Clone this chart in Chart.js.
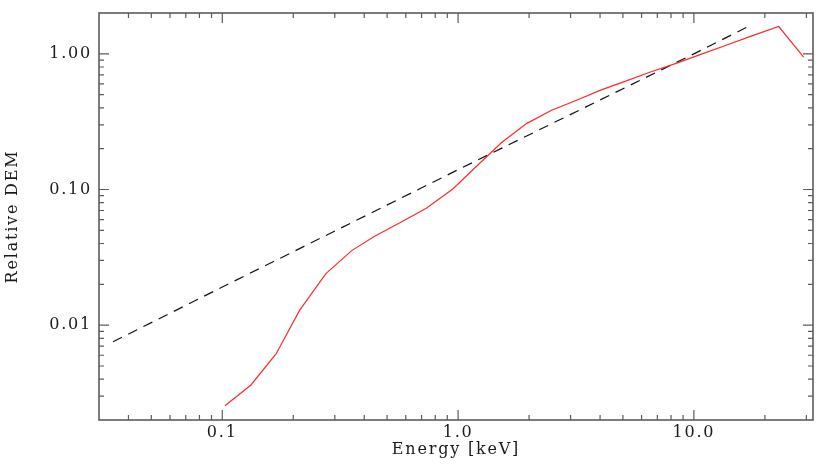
<!DOCTYPE html>
<html><head><meta charset="utf-8">
<script src="https://cdn.jsdelivr.net/npm/chart.js@4/dist/chart.umd.min.js"></script>
<style>html,body{margin:0;padding:0;background:#fff}#wrap{width:830px;height:466px;position:relative}</style>
</head><body><div id="wrap"><canvas id="c"></canvas></div>
<script>
// Red curve (model DEM)
const energyModel = [0.1026, 0.132, 0.169, 0.213, 0.275, 0.355, 0.441, 0.564, 0.733, 0.95, 1.21, 1.53, 1.95, 2.49, 3.18, 4.0, 5.1, 6.5, 8.4, 10.7, 13.7, 17.5, 22.9, 29.2];
const demModel    = [0.00255, 0.00361, 0.00614, 0.0129, 0.0240, 0.0356, 0.0451, 0.0566, 0.0728, 0.101, 0.151, 0.222, 0.306, 0.384, 0.455, 0.538, 0.626, 0.731, 0.851, 0.99, 1.156, 1.35, 1.59, 0.946];
// Dashed reference power law
const energyRef = [0.0344, 0.1, 1.0, 10.0, 17.6];
const demRef    = [0.00754, 0.0191, 0.140, 1.0, 1.64];
// Axes
const xTickValues = [0.1, 1, 10];
const xTickLabels = ['0.1', '1.0', '10.0'];
const yTickValues = [0.01, 0.1, 1];
const yTickLabels = ['0.01', '0.10', '1.00'];
const xRange = [0.03, 32];
const yRange = [0.002, 2];

const FONT = "'DejaVu Serif', 'Liberation Serif', serif";
const FONT_SIZE = 16;
const AXIS_COLOR = '#5c5c5c';
const TEXT_COLOR = '#1a1a1a';
const RED = '#ff2a2a';

function logTicks(min, max) {
  const out = [];
  for (let e = Math.floor(Math.log10(min)) - 1; e <= Math.ceil(Math.log10(max)); e++) {
    for (let k = 1; k <= 9; k++) {
      const v = k * Math.pow(10, e);
      if (v > min * 1.0001 && v < max * 0.9999) out.push({v, major: k === 1});
    }
  }
  return out;
}

const spacing = {
  id: 'spacing',
  beforeLayout(chart) { chart.ctx.letterSpacing = '1.8px'; },
  beforeDraw(chart) { chart.ctx.letterSpacing = '1.8px'; }
};

const frame = {
  id: 'frame',
  afterDraw(chart) {
    const {ctx, chartArea: a, scales: {x, y}} = chart;
    ctx.save();
    ctx.strokeStyle = AXIS_COLOR;
    ctx.lineWidth = 1.2;
    ctx.beginPath();
    for (const t of logTicks(x.min, x.max)) {
      const px = x.getPixelForValue(t.v), L = t.major ? 10 : 5;
      ctx.moveTo(px, a.bottom); ctx.lineTo(px, a.bottom - L);
      ctx.moveTo(px, a.top); ctx.lineTo(px, a.top + L);
    }
    for (const t of logTicks(y.min, y.max)) {
      const py = y.getPixelForValue(t.v), L = t.major ? 10 : 5;
      ctx.moveTo(a.left, py); ctx.lineTo(a.left + L, py);
      ctx.moveTo(a.right, py); ctx.lineTo(a.right - L, py);
    }
    ctx.stroke();
    ctx.lineWidth = 1.6;
    ctx.strokeRect(a.left, a.top, a.right - a.left, a.bottom - a.top);
    ctx.restore();
  }
};

new Chart(document.getElementById('c'), {
  type: 'line',
  data: {
    datasets: [
      {
        data: energyModel.map((e, i) => ({x: e, y: demModel[i]})),
        borderColor: RED, borderWidth: 1.2, pointRadius: 0, tension: 0, fill: false
      },
      {
        data: energyRef.map((e, i) => ({x: e, y: demRef[i]})),
        borderColor: '#111', borderWidth: 1.2, borderDash: [10, 7], pointRadius: 0, tension: 0, fill: false
      }
    ]
  },
  options: {
    responsive: true, maintainAspectRatio: false, animation: false,
    devicePixelRatio: 1,
    layout: {padding: {left: 0, right: 17, top: 13, bottom: 0}},
    plugins: {legend: {display: false}, tooltip: {enabled: false}},
    scales: {
      x: {
        type: 'logarithmic', min: xRange[0], max: xRange[1],
        grid: {display: false, drawTicks: false}, border: {display: false},
        afterBuildTicks: s => { s.ticks = xTickValues.map(v => ({value: v})); },
        afterFit: s => { s.height = 46; s.paddingLeft = 0; s.paddingRight = 0; },
        ticks: {
          color: TEXT_COLOR, padding: 3, maxRotation: 0, autoSkip: false,
          font: {family: FONT, size: FONT_SIZE},
          callback: (v, i) => xTickLabels[i]
        },
        title: {display: true, text: 'Energy [keV]', color: TEXT_COLOR, font: {family: FONT, size: FONT_SIZE}, padding: {top: 0, bottom: 7}}
      },
      y: {
        type: 'logarithmic', min: yRange[0], max: yRange[1],
        grid: {display: false, drawTicks: false}, border: {display: false},
        afterBuildTicks: s => { s.ticks = yTickValues.map(v => ({value: v})); },
        afterFit: s => { s.width = 99; s.paddingTop = 0; s.paddingBottom = 0; },
        ticks: {
          color: TEXT_COLOR, padding: 7, autoSkip: false,
          font: {family: FONT, size: FONT_SIZE},
          callback: (v, i) => yTickLabels[i]
        },
        title: {display: true, text: 'Relative DEM', color: TEXT_COLOR, font: {family: FONT, size: FONT_SIZE}, padding: {top: 3, bottom: 0}}
      }
    }
  },
  plugins: [spacing, frame]
});
</script></body></html>
